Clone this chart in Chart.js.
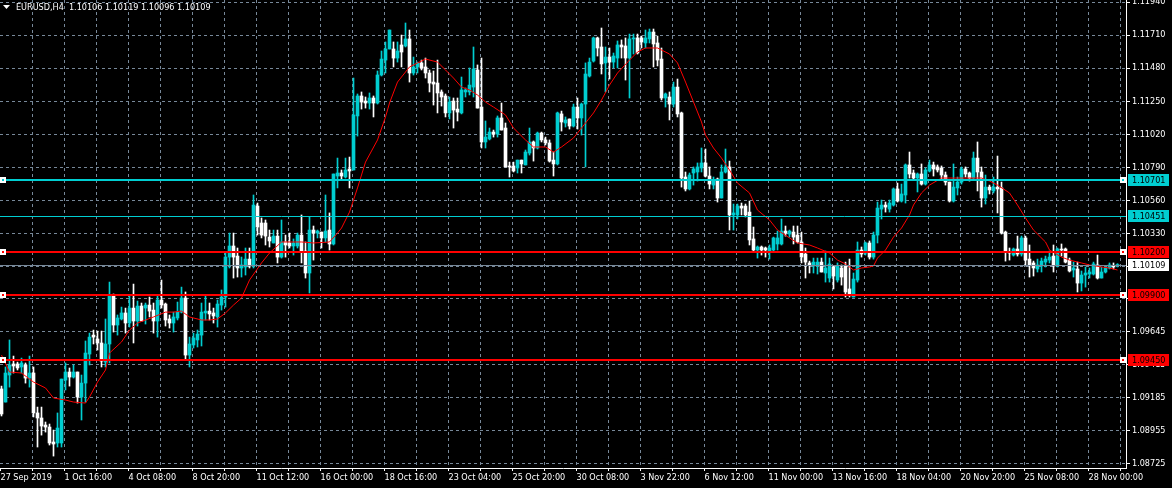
<!DOCTYPE html>
<html lang="en">
<head>
    <meta charset="UTF-8">
    <title>EURUSD,H4</title>
    <script src="https://cdn.jsdelivr.net/npm/chart.js"></script>
    <style>
        html, body { margin: 0; padding: 0; background: #000; }
        #wrap { width: 1172px; height: 488px; }
    </style>
</head>
<body>
    <div id="wrap"><canvas id="chart" width="1172" height="488"></canvas></div>
    <script>
        // EURUSD H4 candles (oldest first)
        const symbol = 'EURUSD,H4';
        const opens = [
            1.09247, 1.09156, 1.09344, 1.09421, 1.09421, 1.09400, 1.09414, 1.09323, 1.09358, 1.09080,
            1.09045, 1.08996, 1.08982, 1.08878, 1.08871, 1.08871, 1.09309, 1.09365, 1.09330, 1.09365,
            1.09191, 1.09288, 1.09490, 1.09622, 1.09595, 1.09567, 1.09434, 1.09560, 1.09901, 1.09692,
            1.09734, 1.09776, 1.09706, 1.09810, 1.09720, 1.09824, 1.09810, 1.09831, 1.09796, 1.09720,
            1.09866, 1.09838, 1.09734, 1.09706, 1.09741, 1.09782, 1.09880, 1.09483, 1.09553, 1.09588,
            1.09622, 1.09776, 1.09789, 1.09776, 1.09748, 1.09831, 1.09887, 1.10165, 1.10242, 1.10172,
            1.10089, 1.10096, 1.10151, 1.10103, 1.10520, 1.10402, 1.10402, 1.10304, 1.10263, 1.10311,
            1.10165, 1.10270, 1.10263, 1.10242, 1.10242, 1.10318, 1.10207, 1.10054, 1.10353, 1.10332,
            1.10339, 1.10298, 1.10353, 1.10256, 1.10729, 1.10750, 1.10722, 1.10778, 1.10771, 1.11147,
            1.11286, 1.11251, 1.11237, 1.11272, 1.11237, 1.11432, 1.11536, 1.11613, 1.11613, 1.11550,
            1.11641, 1.11634, 1.11683, 1.11446, 1.11488, 1.11516, 1.11488, 1.11446, 1.11383, 1.11376,
            1.11314, 1.11286, 1.11168, 1.11251, 1.11195, 1.11168, 1.11314, 1.11314, 1.11348, 1.11467,
            1.11209, 1.10966, 1.10987, 1.11035, 1.11021, 1.11133, 1.11063, 1.10799, 1.10799, 1.10785,
            1.10840, 1.10806, 1.10889, 1.10966, 1.10924, 1.11028, 1.10980, 1.10959, 1.10840, 1.10813,
            1.11161, 1.11098, 1.11126, 1.11077, 1.11209, 1.11133, 1.11230, 1.11425, 1.11529, 1.11690,
            1.11627, 1.11516, 1.11557, 1.11522, 1.11550, 1.11641, 1.11634, 1.11550, 1.11683, 1.11690,
            1.11690, 1.11655, 1.11683, 1.11731, 1.11655, 1.11543, 1.11272, 1.11279, 1.11230, 1.11348,
            1.11168, 1.10722, 1.10639, 1.10750, 1.10757, 1.10785, 1.10820, 1.10729, 1.10666, 1.10708,
            1.10576, 1.10757, 1.10792, 1.10458, 1.10458, 1.10520, 1.10520, 1.10478, 1.10291, 1.10214,
            1.10235, 1.10228, 1.10207, 1.10214, 1.10256, 1.10256, 1.10346, 1.10325, 1.10339, 1.10318,
            1.10270, 1.10186, 1.10124, 1.10103, 1.10103, 1.10130, 1.10054, 1.10019, 1.10096, 1.10005,
            1.10089, 1.10103, 1.09943, 1.09887, 1.10005, 1.10214, 1.10193, 1.10263, 1.10165, 1.10318,
            1.10499, 1.10527, 1.10499, 1.10527, 1.10639, 1.10555, 1.10597, 1.10806, 1.10750, 1.10715,
            1.10743, 1.10673, 1.10764, 1.10806, 1.10792, 1.10785, 1.10736, 1.10687, 1.10555, 1.10646,
            1.10687, 1.10778, 1.10750, 1.10715, 1.10854, 1.10757, 1.10576, 1.10652, 1.10625, 1.10652,
            1.10646, 1.10339, 1.10200, 1.10179, 1.10221, 1.10186, 1.10298, 1.10151, 1.10124, 1.10082,
            1.10103, 1.10130, 1.10144, 1.10172, 1.10103, 1.10221, 1.10221, 1.10144, 1.10075, 1.10082,
            1.09984, 1.10040, 1.10047, 1.10047, 1.10110, 1.10019, 1.10061, 1.10089, 1.10103, 1.10106
        ];
        const highs = [
            1.09267, 1.09400, 1.09588, 1.09476, 1.09434, 1.09462, 1.09428, 1.09476, 1.09400, 1.09121,
            1.09121, 1.09017, 1.09003, 1.08961, 1.09080, 1.09316, 1.09428, 1.09393, 1.09414, 1.09365,
            1.09344, 1.09581, 1.09636, 1.09657, 1.09650, 1.09650, 1.09734, 1.09991, 1.09908, 1.09762,
            1.09817, 1.09810, 1.09894, 1.09977, 1.09859, 1.09845, 1.09845, 1.09887, 1.09845, 1.09901,
            1.10005, 1.09845, 1.09762, 1.09782, 1.09852, 1.09956, 1.09922, 1.09608, 1.09636, 1.09657,
            1.09845, 1.09901, 1.09845, 1.09810, 1.09866, 1.09936, 1.10193, 1.10332, 1.10332, 1.10228,
            1.10165, 1.10228, 1.10228, 1.10597, 1.10541, 1.10437, 1.10423, 1.10353, 1.10353, 1.10353,
            1.10423, 1.10318, 1.10332, 1.10291, 1.10332, 1.10458, 1.10270, 1.10444, 1.10381, 1.10353,
            1.10339, 1.10597, 1.10472, 1.10743, 1.10854, 1.10771, 1.10854, 1.10861, 1.11411, 1.11300,
            1.11314, 1.11279, 1.11307, 1.11286, 1.11460, 1.11599, 1.11662, 1.11745, 1.11662, 1.11662,
            1.11710, 1.11794, 1.11745, 1.11557, 1.11522, 1.11536, 1.11550, 1.11467, 1.11460, 1.11536,
            1.11328, 1.11300, 1.11279, 1.11272, 1.11272, 1.11418, 1.11342, 1.11481, 1.11627, 1.11502,
            1.11550, 1.11112, 1.11063, 1.11049, 1.11147, 1.11237, 1.11098, 1.10826, 1.10826, 1.10840,
            1.10840, 1.10910, 1.11063, 1.10973, 1.11035, 1.11035, 1.11000, 1.10980, 1.10896, 1.11174,
            1.11181, 1.11140, 1.11126, 1.11230, 1.11272, 1.11237, 1.11516, 1.11550, 1.11696, 1.11696,
            1.11759, 1.11627, 1.11620, 1.11585, 1.11669, 1.11676, 1.11690, 1.11717, 1.11717, 1.11717,
            1.11703, 1.11745, 1.11752, 1.11752, 1.11703, 1.11620, 1.11307, 1.11314, 1.11383, 1.11404,
            1.11174, 1.10757, 1.10750, 1.10792, 1.10820, 1.10924, 1.10917, 1.10792, 1.10722, 1.10715,
            1.10806, 1.10917, 1.10833, 1.10534, 1.10534, 1.10541, 1.10534, 1.10555, 1.10374, 1.10242,
            1.10242, 1.10235, 1.10249, 1.10304, 1.10346, 1.10430, 1.10381, 1.10353, 1.10381, 1.10381,
            1.10339, 1.10228, 1.10137, 1.10158, 1.10158, 1.10158, 1.10207, 1.10158, 1.10103, 1.10124,
            1.10110, 1.10130, 1.10151, 1.10054, 1.10270, 1.10235, 1.10270, 1.10277, 1.10339, 1.10548,
            1.10562, 1.10548, 1.10562, 1.10646, 1.10680, 1.10673, 1.10813, 1.10896, 1.10771, 1.10750,
            1.10813, 1.10785, 1.10840, 1.10826, 1.10806, 1.10799, 1.10757, 1.10687, 1.10813, 1.10722,
            1.10792, 1.10792, 1.10757, 1.10896, 1.10966, 1.10792, 1.10736, 1.10666, 1.10722, 1.10868,
            1.10687, 1.10346, 1.10228, 1.10228, 1.10311, 1.10311, 1.10311, 1.10249, 1.10137, 1.10151,
            1.10158, 1.10172, 1.10207, 1.10249, 1.10228, 1.10256, 1.10228, 1.10158, 1.10130, 1.10130,
            1.10068, 1.10096, 1.10089, 1.10130, 1.10179, 1.10096, 1.10103, 1.10124, 1.10124, 1.10119
        ];
        const lows = [
            1.09059, 1.09156, 1.09260, 1.09358, 1.09379, 1.09358, 1.09288, 1.09260, 1.09052, 1.08843,
            1.08926, 1.08947, 1.08857, 1.08780, 1.08843, 1.08843, 1.09240, 1.09267, 1.09323, 1.09149,
            1.09031, 1.09156, 1.09414, 1.09560, 1.09518, 1.09400, 1.09400, 1.09428, 1.09643, 1.09622,
            1.09727, 1.09636, 1.09678, 1.09567, 1.09685, 1.09720, 1.09699, 1.09748, 1.09636, 1.09608,
            1.09810, 1.09685, 1.09671, 1.09643, 1.09727, 1.09776, 1.09448, 1.09400, 1.09532, 1.09539,
            1.09546, 1.09727, 1.09727, 1.09706, 1.09678, 1.09796, 1.09817, 1.10089, 1.10019, 1.10026,
            1.10026, 1.10040, 1.10089, 1.10089, 1.10318, 1.10298, 1.10249, 1.10235, 1.10263, 1.10124,
            1.10158, 1.10165, 1.10228, 1.10179, 1.10228, 1.10124, 1.10019, 1.09915, 1.10144, 1.10298,
            1.10228, 1.10270, 1.10214, 1.10249, 1.10646, 1.10701, 1.10715, 1.10646, 1.10771, 1.11007,
            1.11195, 1.11202, 1.11195, 1.11140, 1.11230, 1.11425, 1.11446, 1.11613, 1.11488, 1.11522,
            1.11488, 1.11627, 1.11383, 1.11432, 1.11446, 1.11467, 1.11411, 1.11314, 1.11223, 1.11168,
            1.11216, 1.11140, 1.11126, 1.11063, 1.11112, 1.11161, 1.11279, 1.11293, 1.11279, 1.11202,
            1.10924, 1.10924, 1.10980, 1.11000, 1.11000, 1.11049, 1.10792, 1.10722, 1.10757, 1.10750,
            1.10750, 1.10806, 1.10875, 1.10833, 1.10917, 1.10966, 1.10945, 1.10826, 1.10729, 1.10806,
            1.11042, 1.11070, 1.11056, 1.11070, 1.11056, 1.11014, 1.10792, 1.11418, 1.11522, 1.11564,
            1.11439, 1.11314, 1.11404, 1.11481, 1.11481, 1.11550, 1.11397, 1.11272, 1.11578, 1.11578,
            1.11620, 1.11620, 1.11655, 1.11488, 1.11495, 1.11258, 1.11209, 1.11119, 1.11209, 1.11140,
            1.10652, 1.10625, 1.10632, 1.10666, 1.10694, 1.10757, 1.10722, 1.10639, 1.10639, 1.10548,
            1.10576, 1.10750, 1.10353, 1.10353, 1.10430, 1.10458, 1.10444, 1.10249, 1.10200, 1.10158,
            1.10179, 1.10165, 1.10151, 1.10207, 1.10214, 1.10249, 1.10311, 1.10304, 1.10256, 1.10263,
            1.10124, 1.10019, 1.10054, 1.10054, 1.10047, 1.10061, 1.09991, 1.09991, 1.09943, 1.09991,
            1.09970, 1.09887, 1.09887, 1.09887, 1.09991, 1.10165, 1.10179, 1.10151, 1.10151, 1.10263,
            1.10430, 1.10478, 1.10478, 1.10520, 1.10548, 1.10548, 1.10541, 1.10715, 1.10701, 1.10618,
            1.10666, 1.10666, 1.10757, 1.10729, 1.10757, 1.10701, 1.10666, 1.10548, 1.10548, 1.10597,
            1.10673, 1.10722, 1.10694, 1.10708, 1.10625, 1.10513, 1.10534, 1.10604, 1.10611, 1.10472,
            1.10325, 1.10137, 1.10144, 1.10172, 1.10172, 1.10172, 1.10103, 1.10026, 1.10033, 1.10061,
            1.10061, 1.10096, 1.10124, 1.10061, 1.10096, 1.10172, 1.10124, 1.10061, 1.10026, 1.09922,
            1.09929, 1.09956, 1.10019, 1.10040, 1.10012, 1.10019, 1.10054, 1.10082, 1.10082, 1.10096
        ];
        const closes = [
            1.09073, 1.09358, 1.09414, 1.09407, 1.09393, 1.09428, 1.09323, 1.09358, 1.09080, 1.09045,
            1.08989, 1.08982, 1.08871, 1.08864, 1.08975, 1.09316, 1.09365, 1.09330, 1.09365, 1.09191,
            1.09288, 1.09497, 1.09608, 1.09608, 1.09567, 1.09441, 1.09560, 1.09901, 1.09692, 1.09741,
            1.09776, 1.09706, 1.09810, 1.09720, 1.09824, 1.09720, 1.09831, 1.09789, 1.09720, 1.09866,
            1.09831, 1.09727, 1.09706, 1.09748, 1.09782, 1.09880, 1.09483, 1.09560, 1.09602, 1.09629,
            1.09782, 1.09789, 1.09769, 1.09755, 1.09838, 1.09887, 1.10165, 1.10242, 1.10165, 1.10089,
            1.10110, 1.10151, 1.10103, 1.10527, 1.10374, 1.10318, 1.10311, 1.10277, 1.10311, 1.10165,
            1.10270, 1.10249, 1.10242, 1.10263, 1.10318, 1.10200, 1.10054, 1.10353, 1.10332, 1.10346,
            1.10298, 1.10346, 1.10256, 1.10743, 1.10750, 1.10729, 1.10771, 1.10764, 1.11154, 1.11286,
            1.11244, 1.11237, 1.11272, 1.11237, 1.11432, 1.11543, 1.11613, 1.11745, 1.11550, 1.11599,
            1.11592, 1.11683, 1.11446, 1.11488, 1.11516, 1.11481, 1.11446, 1.11376, 1.11369, 1.11307,
            1.11279, 1.11168, 1.11244, 1.11188, 1.11174, 1.11328, 1.11328, 1.11362, 1.11474, 1.11202,
            1.10966, 1.11000, 1.11035, 1.11021, 1.11133, 1.11049, 1.10792, 1.10792, 1.10764, 1.10840,
            1.10813, 1.10896, 1.10966, 1.10924, 1.11028, 1.10980, 1.10959, 1.10833, 1.10813, 1.11168,
            1.11105, 1.11119, 1.11077, 1.11209, 1.11133, 1.11230, 1.11439, 1.11522, 1.11690, 1.11620,
            1.11509, 1.11557, 1.11522, 1.11564, 1.11641, 1.11627, 1.11550, 1.11683, 1.11690, 1.11585,
            1.11662, 1.11690, 1.11731, 1.11648, 1.11536, 1.11272, 1.11300, 1.11230, 1.11348, 1.11161,
            1.10715, 1.10639, 1.10736, 1.10778, 1.10792, 1.10820, 1.10729, 1.10673, 1.10701, 1.10576,
            1.10757, 1.10792, 1.10458, 1.10472, 1.10520, 1.10506, 1.10458, 1.10284, 1.10214, 1.10235,
            1.10214, 1.10214, 1.10228, 1.10298, 1.10298, 1.10346, 1.10332, 1.10346, 1.10304, 1.10270,
            1.10165, 1.10130, 1.10110, 1.10130, 1.10130, 1.10061, 1.10089, 1.10117, 1.10033, 1.10103,
            1.10026, 1.09922, 1.09908, 1.10012, 1.10214, 1.10186, 1.10263, 1.10165, 1.10318, 1.10506,
            1.10527, 1.10513, 1.10541, 1.10639, 1.10555, 1.10604, 1.10806, 1.10743, 1.10715, 1.10743,
            1.10673, 1.10771, 1.10806, 1.10778, 1.10771, 1.10736, 1.10687, 1.10555, 1.10652, 1.10687,
            1.10778, 1.10743, 1.10715, 1.10854, 1.10757, 1.10576, 1.10652, 1.10632, 1.10652, 1.10639,
            1.10332, 1.10200, 1.10193, 1.10221, 1.10186, 1.10298, 1.10144, 1.10110, 1.10089, 1.10110,
            1.10137, 1.10151, 1.10165, 1.10103, 1.10221, 1.10214, 1.10130, 1.10068, 1.10089, 1.09984,
            1.10040, 1.10054, 1.10061, 1.10117, 1.10019, 1.10061, 1.10089, 1.10110, 1.10096, 1.10109
        ];

        // moving average (red line), read at a few bars
        const maBars = [
            0, 2, 5, 8, 11, 13, 16, 18, 21, 22, 24, 26, 27, 30, 32, 34, 36, 38, 41, 43,
            45, 47, 50, 52, 54, 56, 58, 60, 62, 65, 67, 70, 75, 78, 82, 84, 85, 87, 89, 91,
            94, 96, 97, 99, 101, 102, 104, 106, 109, 111, 113, 115, 117, 119, 121, 123, 126, 128, 131, 133,
            136, 138, 140, 143, 145, 148, 150, 152, 154, 157, 159, 161, 164, 165, 167, 169, 171, 173, 175, 176,
            178, 180, 182, 184, 187, 189, 192, 194, 197, 199, 202, 204, 207, 209, 211, 213, 215, 217, 218, 219,
            221, 223, 225, 227, 228, 230, 232, 235, 240, 245, 247, 249, 252, 254, 256, 258, 261, 262, 265, 267,
            270, 272, 275, 277, 279
        ];
        const maValues = [
            1.09483, 1.09365, 1.09358, 1.09295, 1.09254, 1.09184, 1.09170, 1.09156, 1.09149, 1.09191,
            1.09295, 1.09379, 1.09497, 1.09574, 1.09657, 1.09706, 1.09727, 1.09748, 1.09782, 1.09782,
            1.09789, 1.09748, 1.09727, 1.09727, 1.09734, 1.09776, 1.09831, 1.09880, 1.10005, 1.10124,
            1.10193, 1.10270, 1.10270, 1.10263, 1.10270, 1.10332, 1.10367, 1.10478, 1.10646, 1.10826,
            1.10980, 1.11140, 1.11237, 1.11383, 1.11453, 1.11488, 1.11516, 1.11543, 1.11522, 1.11467,
            1.11411, 1.11348, 1.11328, 1.11293, 1.11244, 1.11209, 1.11154, 1.11063, 1.10980, 1.10931,
            1.10931, 1.10896, 1.10931, 1.10994, 1.11063, 1.11168, 1.11258, 1.11362, 1.11446, 1.11536,
            1.11592, 1.11620, 1.11620, 1.11606, 1.11578, 1.11516, 1.11383, 1.11244, 1.11105, 1.11014,
            1.10924, 1.10854, 1.10771, 1.10680, 1.10611, 1.10492, 1.10423, 1.10353, 1.10298, 1.10263,
            1.10249, 1.10228, 1.10193, 1.10144, 1.10117, 1.10075, 1.10089, 1.10096, 1.10103, 1.10158,
            1.10214, 1.10304, 1.10367, 1.10458, 1.10527, 1.10611, 1.10666, 1.10715, 1.10715, 1.10715,
            1.10694, 1.10666, 1.10611, 1.10527, 1.10437, 1.10353, 1.10270, 1.10214, 1.10165, 1.10144,
            1.10124, 1.10110, 1.10096, 1.10089, 1.10075
        ];

        // horizontal price levels
        const levelValues = [1.10701, 1.10451, 1.10200, 1.09900, 1.09450];
        const levelColors = ['#00CED1', '#00CED1', '#FF0000', '#FF0000', '#FF0000'];
        const levelWidths = [2, 1, 2, 2, 2];
        const levelAnchors = [true, false, true, true, true];

        // axis labels
        const priceTicks = [1.11940, 1.11710, 1.11480, 1.11250, 1.11020, 1.10790, 1.10560, 1.10330,
            1.10100, 1.09875, 1.09645, 1.09415, 1.09185, 1.08955, 1.08725];
        const priceLabels = ['1.11940', '1.11710', '1.11480', '1.11250', '1.11020', '1.10790', '1.10560', '1.10330',
            '1.10100', '1.09875', '1.09645', '1.09415', '1.09185', '1.08955', '1.08725'];
        const timeLabels = ['27 Sep 2019', '1 Oct 16:00', '4 Oct 08:00', '8 Oct 20:00', '11 Oct 12:00',
            '16 Oct 00:00', '18 Oct 16:00', '23 Oct 04:00', '25 Oct 20:00', '30 Oct 08:00', '3 Nov 22:00',
            '6 Nov 12:00', '11 Nov 00:00', '13 Nov 16:00', '18 Nov 04:00', '20 Nov 20:00', '25 Nov 08:00',
            '28 Nov 00:00'];

        const upColor = '#00CED1';
        const downColor = '#FFFFFF';
        const gridColor = '#778899';
        const FONT = "'DejaVu Sans Condensed', 'Liberation Sans', sans-serif";
        const last = closes.length - 1;

        // one grid line every 8 bars, a time label on every second one
        const gridBars = [];
        for (let k = 0; k < 36; k++) gridBars.push(8 * k - 0.25);

        const bodies = opens.map((o, i) => ({ x: i, y: [o, closes[i]] }));
        const wicks = opens.map((o, i) => ({ x: i, y: [lows[i], highs[i]] }));
        const maPoints = maBars.map((b, k) => ({ x: b, y: maValues[k] }));
        const candleColor = c => closes[c.dataIndex] >= opens[c.dataIndex] ? upColor : downColor;

        const noPad = s => { s.paddingTop = 0; s.paddingBottom = 0; s.paddingLeft = 0; s.paddingRight = 0; };

        // lines, anchors, price boxes and the title line
        const overlay = {
            id: 'overlay',
            afterDatasetsDraw(chart) {
                const { ctx, chartArea: a, scales: { y } } = chart;
                ctx.save();
                ctx.beginPath();
                ctx.rect(a.left, a.top, a.right - a.left, a.bottom - a.top);
                ctx.clip();

                // bid line
                let py = Math.round(y.getPixelForValue(closes[last])) + 0.5;
                ctx.strokeStyle = gridColor;
                ctx.lineWidth = 1;
                ctx.beginPath();
                ctx.moveTo(a.left, py);
                ctx.lineTo(a.right, py);
                ctx.stroke();

                levelValues.forEach((v, k) => {
                    const w = levelWidths[k];
                    const p = y.getPixelForValue(v);
                    py = w % 2 ? Math.round(p) + 0.5 : Math.round(p);
                    ctx.strokeStyle = levelColors[k];
                    ctx.lineWidth = w;
                    ctx.beginPath();
                    ctx.moveTo(a.left, py);
                    ctx.lineTo(a.right, py);
                    ctx.stroke();
                    if (levelAnchors[k]) {
                        const cy = Math.round(p);
                        [a.left, a.right - 6].forEach(x0 => {
                            ctx.fillStyle = '#FFFFFF';
                            ctx.fillRect(x0, cy - 3, 6, 6);
                            ctx.fillStyle = levelColors[k];
                            ctx.fillRect(x0 + 2, cy - 1, 2, 2);
                        });
                    }
                });
                ctx.restore();
            },
            afterDraw(chart) {
                const { ctx, chartArea: a, scales: { y } } = chart;
                ctx.save();
                ctx.font = '9px ' + FONT;
                ctx.textBaseline = 'middle';
                const box = (v, fill) => {
                    const cy = Math.round(y.getPixelForValue(v));
                    ctx.fillStyle = fill;
                    ctx.fillRect(a.right + 2, cy - 6, 41, 12);
                    ctx.fillStyle = '#000000';
                    ctx.fillText(v.toFixed(5), a.right + 6, cy + 0.5);
                };
                levelValues.forEach((v, k) => box(v, levelColors[k]));
                box(closes[last], '#FFFFFF');

                // title
                ctx.fillStyle = '#FFFFFF';
                ctx.beginPath();
                ctx.moveTo(3, 5);
                ctx.lineTo(10, 5);
                ctx.lineTo(6.5, 9);
                ctx.closePath();
                ctx.fill();
                const title = symbol + '  ' + [opens[last], highs[last], lows[last], closes[last]]
                    .map(v => v.toFixed(5)).join(' ');
                ctx.fillText(title, 16, 7.5);
                ctx.restore();
            }
        };

        new Chart(document.getElementById('chart'), {
            type: 'bar',
            data: {
                datasets: [
                    {
                        type: 'line',
                        data: maPoints,
                        borderColor: '#FF0000',
                        borderWidth: 1,
                        pointRadius: 0,
                        tension: 0,
                        order: 0
                    },
                    {
                        data: bodies,
                        backgroundColor: candleColor,
                        borderWidth: 0,
                        barThickness: 3,
                        minBarLength: 1,
                        grouped: false,
                        order: 1
                    },
                    {
                        data: wicks,
                        backgroundColor: candleColor,
                        borderWidth: 0,
                        barThickness: 1,
                        grouped: false,
                        order: 2
                    }
                ]
            },
            options: {
                responsive: false,
                animation: false,
                events: [],
                layout: { padding: 0 },
                plugins: { legend: { display: false }, tooltip: { enabled: false } },
                scales: {
                    x: {
                        type: 'linear',
                        min: -0.375,
                        max: 281.125,
                        offset: false,
                        afterBuildTicks: s => { s.ticks = gridBars.map(v => ({ value: v })); },
                        afterFit: s => { s.height = 20; noPad(s); },
                        ticks: {
                            color: '#FFFFFF',
                            font: { family: FONT, size: 9 },
                            align: 'start',
                            maxRotation: 0,
                            autoSkip: false,
                            padding: 1,
                            callback: (v, i) => i % 2 === 0 ? timeLabels[i / 2] : ''
                        },
                        grid: {
                            offset: false,
                            color: c => c.index === 0 ? 'rgba(0,0,0,0)' : gridColor,
                            lineWidth: 1,
                            tickLength: 3,
                            tickColor: '#FFFFFF'
                        },
                        border: { color: '#FFFFFF', width: 1, dash: [3, 3] }
                    },
                    y: {
                        position: 'right',
                        min: 1.08697,
                        max: 1.11954,
                        afterBuildTicks: s => { s.ticks = priceTicks.map(v => ({ value: v })); },
                        afterFit: s => { s.width = 46; noPad(s); },
                        ticks: {
                            color: '#FFFFFF',
                            font: { family: FONT, size: 9 },
                            autoSkip: false,
                            padding: 2,
                            callback: (v, i) => priceLabels[i]
                        },
                        grid: {
                            color: gridColor,
                            lineWidth: 1,
                            tickLength: 4,
                            tickColor: '#FFFFFF'
                        },
                        border: { color: '#FFFFFF', width: 1, dash: [3, 3] }
                    }
                }
            },
            plugins: [overlay]
        });
    </script>
</body>
</html>
